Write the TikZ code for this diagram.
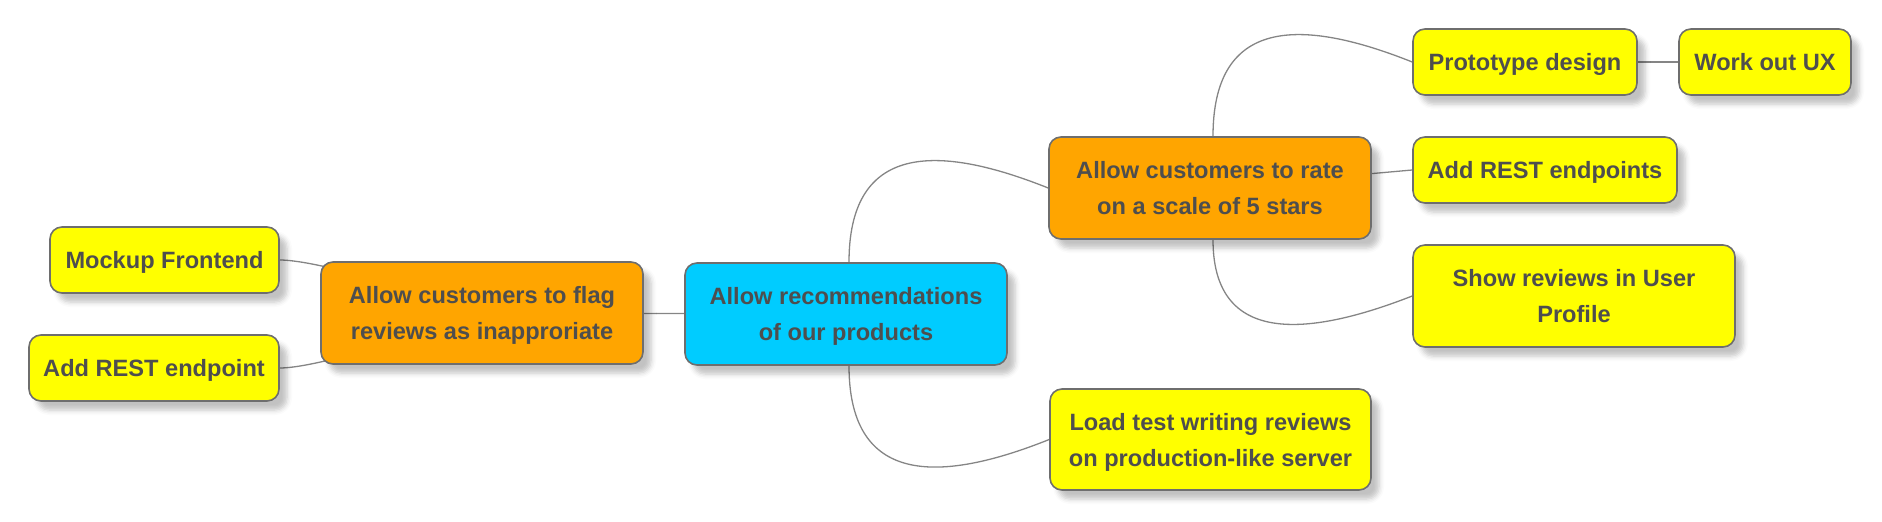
\documentclass[tikz,border=0pt]{standalone}
\usepackage{fontspec}
\setmainfont{Liberation Sans}
\usetikzlibrary{shadows.blur,backgrounds}
\definecolor{nodeyellow}{HTML}{FFFF00}
\definecolor{nodeorange}{HTML}{FFA500}
\definecolor{nodecyan}{HTML}{00CCFF}
\definecolor{edgegray}{HTML}{6E6E6E}
\definecolor{textgray}{HTML}{4E4E4E}
\definecolor{linkgray}{HTML}{858585}
\tikzset{
  mmbox/.style={draw=edgegray, line width=1.6pt, rounded corners=12pt, inner sep=0pt,
    align=center, text=textgray, font=\fontsize{23.6}{36}\selectfont\bfseries, text depth=0pt,
    blur shadow={shadow xshift=8pt, shadow yshift=-9pt, shadow blur radius=5pt, shadow opacity=24}},
  ynode/.style={mmbox, fill=nodeyellow},
  onode/.style={mmbox, fill=nodeorange},
  cnode/.style={mmbox, fill=nodecyan},
  link/.style={draw=linkgray, line width=1.3pt},
}
\begin{document}
\begin{tikzpicture}[x=1pt,y=1pt]
\useasboundingbox (0,0) rectangle (1882,-522);
\node[cnode, minimum width=322pt, minimum height=102pt] (c) at (846,-314) {Allow recommendations\\of our products};
\node[onode, minimum width=322pt, minimum height=102pt] (flag) at (482,-313) {Allow customers to flag\\reviews as inapproriate};
\node[ynode, minimum width=229pt, minimum height=66pt] (mock) at (164.5,-260) {Mockup Frontend};
\node[ynode, minimum width=250pt, minimum height=66pt] (arl) at (154,-368) {Add REST endpoint};
\node[onode, minimum width=322pt, minimum height=102pt] (rate) at (1210,-188) {Allow customers to rate\\on a scale of 5 stars};
\node[ynode, minimum width=224pt, minimum height=66pt] (proto) at (1525,-62) {Prototype design};
\node[ynode, minimum width=172pt, minimum height=66pt] (ux) at (1765,-62) {Work out UX};
\node[ynode, minimum width=264pt, minimum height=66pt] (ars) at (1545,-170) {Add REST endpoints};
\node[ynode, minimum width=322pt, minimum height=102pt] (show) at (1574,-296) {Show reviews in User\\Profile};
\node[ynode, minimum width=321pt, minimum height=101pt] (load) at (1210.5,-439.5) {Load test writing reviews\\on production-like server};
\begin{pgfonlayer}{background}
\draw[link] ([xshift=3pt]c.north) .. controls +(0,113) and +(-120,48) .. (rate.west);
\draw[link] ([xshift=3pt]c.south) .. controls +(0,-113) and +(-120,-48) .. (load.west);
\draw[link] ([xshift=3pt]rate.north) .. controls +(0,113) and +(-120,48) .. (proto.west);
\draw[link] ([xshift=3pt]rate.south) .. controls +(0,-100) and +(-115,-45) .. (show.west);
\draw[link] (rate.center) -- (ars.west);
\draw[link] (c.center) -- (flag.center);
\draw[link] (proto.east) -- (ux.west);
\draw[link] (mock.east) to[out=0,in=160,looseness=0.5] (flag.center);
\draw[link] (arl.east) to[out=0,in=200,looseness=0.5] (flag.center);
\end{pgfonlayer}
\end{tikzpicture}
\end{document}
